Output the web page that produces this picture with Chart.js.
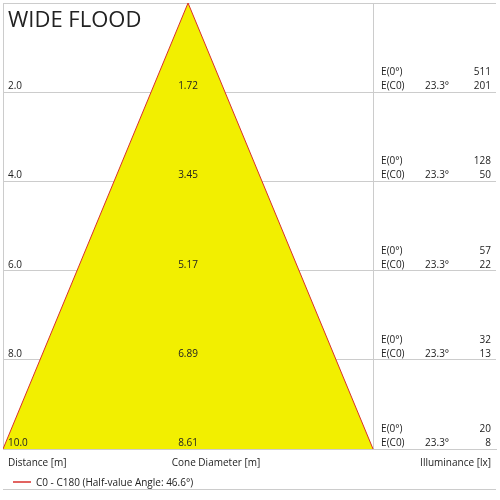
<!DOCTYPE html>
<html><head><script src="https://cdn.jsdelivr.net/npm/chart.js@4"></script>
<style>body{margin:0;background:#fff}#w{width:500px;height:500px}</style></head>
<body><div id="w"><canvas id="c"></canvas></div>
<script>
const distances=[2,4,6,8,10];
const distanceLabels=["2.0","4.0","6.0","8.0","10.0"];
const diameters=[1.72,3.45,5.17,6.89,8.61];
const e0=[511,128,57,32,20];
const eC0=[201,50,22,13,8];
const halfAngle="23.3°";
const maxD=10, halfBase=8.61/2, rightCol=2.86;
const font='"Open Sans", "DejaVu Sans", sans-serif';
const textPlugin={id:'t',afterDraw(ch){
 const {ctx,scales:{x,y},chartArea:a}=ch;
 ctx.save();ctx.fillStyle='#222';
 ctx.font='22px '+font;ctx.textBaseline='alphabetic';ctx.textAlign='left';
 ctx.fillText('WIDE FLOOD',a.left+5,a.top+24);
 ctx.font='10px '+font;
 distances.forEach((d,i)=>{
  const py=y.getPixelForValue(d);
  ctx.textAlign='left';ctx.fillText(distanceLabels[i],a.left+5,py-3);
  ctx.textAlign='center';ctx.fillText(diameters[i].toFixed(2),x.getPixelForValue(0),py-3);
  const xr=x.getPixelForValue(halfBase);
  ctx.textAlign='left';ctx.fillText('E(0°)',xr+8,py-17);ctx.fillText('E(C0)',xr+8,py-3);
  ctx.fillText(halfAngle,xr+52,py-3);
  ctx.textAlign='right';ctx.fillText(String(e0[i]),a.right-5,py-17);ctx.fillText(String(eC0[i]),a.right-5,py-3);
 });
 ctx.textAlign='left';ctx.fillText('Distance [m]',a.left+5,a.bottom+17);
 ctx.textAlign='center';ctx.fillText('Cone Diameter [m]',x.getPixelForValue(0.65),a.bottom+17);
 ctx.textAlign='right';ctx.fillText('Illuminance [lx]',a.right-5,a.bottom+17);
 ctx.strokeStyle='#d9302c';ctx.lineWidth=1.5;ctx.beginPath();
 ctx.moveTo(a.left+10,a.bottom+33);ctx.lineTo(a.left+28,a.bottom+33);ctx.stroke();
 ctx.textAlign='left';ctx.fillText('C0 - C180 (Half-value Angle: 46.6°)',a.left+33,a.bottom+37);
 ctx.strokeStyle='#ccc';ctx.lineWidth=1;ctx.beginPath();
 ctx.moveTo(a.left,a.bottom+40.5);ctx.lineTo(a.right,a.bottom+40.5);ctx.stroke();
 ctx.restore();
}};
new Chart(document.getElementById('c'),{type:'scatter',
 data:{datasets:[{data:[{x:-halfBase,y:maxD},{x:0,y:0},{x:halfBase,y:maxD}],showLine:true,
  borderColor:'#d9302c',borderWidth:1,backgroundColor:'#f2ef00',fill:{value:maxD},pointRadius:0,tension:0}]},
 options:{responsive:true,maintainAspectRatio:false,animation:false,
  layout:{padding:{left:3,right:4,top:3,bottom:51}},
  plugins:{legend:{display:false},tooltip:{enabled:false}},
  scales:{x:{type:'linear',min:-halfBase,max:halfBase+rightCol,display:true,
    ticks:{display:false},border:{display:true,color:'#ccc'},
    grid:{color:c=>Math.abs(c.tick.value-halfBase)<1e-6?'#ccc':'transparent',drawTicks:false},
    afterBuildTicks:s=>{s.ticks=[{value:-halfBase},{value:halfBase},{value:halfBase+rightCol}]}},
   y:{type:'linear',reverse:true,min:0,max:maxD,ticks:{display:false,stepSize:2},
    border:{display:true,color:'#ccc'},grid:{color:'#ccc',drawTicks:false}}}},
 plugins:[textPlugin]});
</script></body></html>
